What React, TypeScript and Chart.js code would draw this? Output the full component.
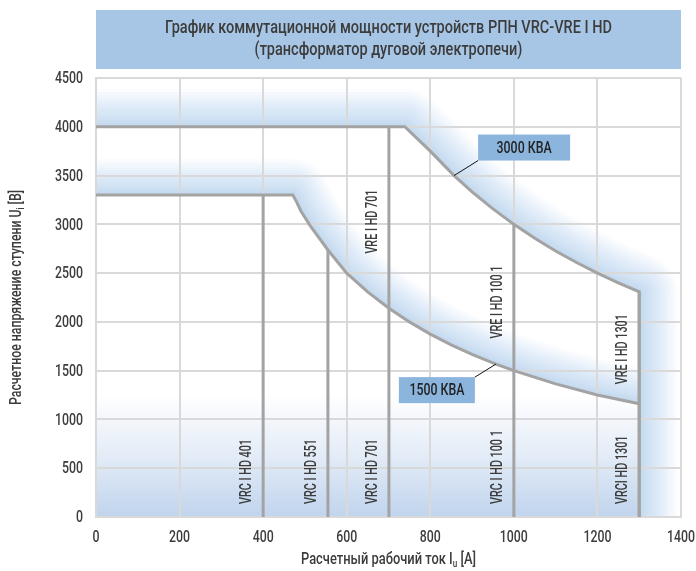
import { useEffect, useRef } from 'react';
import { Chart, registerables } from 'chart.js';

Chart.register(...registerables);

const FONT = "Roboto, 'Noto Sans', sans-serif";

// ---- data ----
const titleLines = [
  'График коммутационной мощности устройств РПН VRC-VRE I HD',
  '(трансформатор дуговой электропечи)',
];
const xTickValues = [0, 200, 400, 600, 800, 1000, 1200, 1400];
const yTickValues = [0, 500, 1000, 1500, 2000, 2500, 3000, 3500, 4000, 4500];

// 3000 kVA envelope (current A, voltage V)
const outerCurrent = [0, 739, 800, 857, 900, 950, 1000, 1050, 1100, 1150, 1200, 1250, 1300, 1300];
const outerVoltage = [4000, 4000, 3750, 3500, 3333, 3158, 3000, 2857, 2727, 2609, 2500, 2400, 2308, 0];

// 1500 kVA envelope
const innerCurrent = [0, 471, 480, 490, 512, 555, 600, 650, 701, 750, 800, 850, 900, 957, 1000, 1100, 1200, 1300];
const innerVoltage = [3300, 3300, 3230, 3140, 2990, 2737, 2500, 2308, 2140, 2000, 1875, 1765, 1667, 1567, 1500, 1364, 1250, 1160];

// tap-changer model limits
const modelCurrent = [400, 555, 701, 1000, 1300];
const modelTop = [3300, 2737, 4000, 3000, 2308];
const vrcLabels = ['VRC I HD 401', 'VRC I HD 551', 'VRC I HD 701', 'VRC I HD 100 1', 'VRCI HD 1301'];
const vreLabels = ['', '', 'VRE I HD 701', 'VRE I HD 100 1', 'VRE I HD 1301'];

// power curve call-outs
const powerLabels = ['3000 КВА', '1500 КВА'];
const powerAnchorCurrent = [857, 957];
const powerAnchorVoltage = [3500, 1567];

const xTitle = ['Расчетный рабочий ток I', 'u', ' [A]'];
const yTitle = ['Расчетное напряжение ступени U', 'i', ' [В]'];

// ---- styles ----
const LINE = '#a3a3a3';
const GRID = '#d9d9d9';
const TEXT = '#3c3c3c';
const TITLE_BG = '#a7c6e6';
const BOX_BG = '#8cb5de';
const GLOW = [165, 196, 234];
const W = 500;

const vreLabelBottomV = [0, 0, 2700, 1830, 1360];
const calloutGeom = [
  { dx: 24, dy: -15, w: 92, h: 26, side: 'right' },
  { dx: -21, dy: 13, w: 76, h: 26, side: 'left' },
];

function pts(cs: number[], vs: number[]) {
  return cs.map((c, i) => ({ x: c, y: vs[i] }));
}

// draw text horizontally condensed so that a reference string gets the wanted width
function condenseFactor(ctx: CanvasRenderingContext2D, font: string, ref: string, width: number) {
  ctx.save();
  ctx.font = font;
  const w = ctx.measureText(ref).width;
  ctx.restore();
  return width / w;
}
function fillNarrow(ctx: CanvasRenderingContext2D, txt: string, x: number, y: number, sx: number) {
  ctx.save();
  ctx.translate(x, y);
  ctx.scale(sx, 1);
  ctx.fillText(txt, 0, 0);
  ctx.restore();
}

function glowStroke(ctx: CanvasRenderingContext2D, path: [number, number][], maxD: number) {
  const N = 18;
  ctx.lineJoin = 'round';
  ctx.lineCap = 'butt';
  for (let k = N; k >= 1; k--) {
    ctx.beginPath();
    path.forEach(([px, py], i) => (i ? ctx.lineTo(px, py) : ctx.moveTo(px, py)));
    ctx.lineWidth = 2 * maxD * Math.pow(k / N, 1.5);
    ctx.strokeStyle = `rgba(${GLOW[0]},${GLOW[1]},${GLOW[2]},0.06)`;
    ctx.stroke();
  }
}

const backgroundPlugin = {
  id: 'backgroundPlugin',
  beforeDraw(chart: any) {
    const { ctx, chartArea: ca, scales } = chart;
    const X = (v: number) => scales.x.getPixelForValue(v);
    const Y = (v: number) => scales.y.getPixelForValue(v);
    ctx.save();
    ctx.fillStyle = '#ffffff';
    ctx.fillRect(0, 0, chart.width, chart.height);

    // title box
    ctx.fillStyle = TITLE_BG;
    ctx.fillRect(ca.left, 10, ca.right - ca.left, 59);
    ctx.fillStyle = TEXT;
    const tf = `${W} 19px ${FONT}`;
    const sx = condenseFactor(ctx, tf, titleLines[0], 447);
    ctx.font = tf;
    ctx.textAlign = 'center';
    ctx.textBaseline = 'middle';
    const cx = (ca.left + ca.right) / 2;
    fillNarrow(ctx, titleLines[0], cx, 28, sx);
    fillNarrow(ctx, titleLines[1], cx, 50, sx);

    // plot area
    ctx.beginPath();
    ctx.rect(ca.left, ca.top, ca.right - ca.left, ca.bottom - ca.top);
    ctx.clip();

    // bottom gradient
    const gTop = Y(1250);
    const g = ctx.createLinearGradient(0, ca.bottom, 0, gTop);
    g.addColorStop(0, 'rgba(192,212,237,1)');
    g.addColorStop(0.5, 'rgba(192,212,237,0.45)');
    g.addColorStop(1, 'rgba(192,212,237,0)');
    ctx.fillStyle = g;
    ctx.fillRect(ca.left, gTop, X(1300) - ca.left, ca.bottom - gTop);

    // outer glow
    const outerPath: [number, number][] = outerCurrent.map((c, i) => [X(c), Y(outerVoltage[i])]);
    outerPath[0][0] = ca.left - 40;
    outerPath[outerPath.length - 1][1] = ca.bottom + 40;
    ctx.save();
    ctx.beginPath();
    outerPath.forEach(([px, py], i) => (i ? ctx.lineTo(px, py) : ctx.moveTo(px, py)));
    ctx.lineTo(ca.right + 50, ca.bottom + 50);
    ctx.lineTo(ca.right + 50, ca.top - 50);
    ctx.lineTo(ca.left - 50, ca.top - 50);
    ctx.closePath();
    ctx.clip();
    glowStroke(ctx, outerPath, 38);
    ctx.restore();

    // inner glow
    const innerPath: [number, number][] = innerCurrent.map((c, i) => [X(c), Y(innerVoltage[i])]);
    innerPath[0][0] = ca.left - 40;
    const last = innerPath[innerPath.length - 1];
    ctx.save();
    ctx.beginPath();
    innerPath.forEach(([px, py], i) => (i ? ctx.lineTo(px, py) : ctx.moveTo(px, py)));
    ctx.lineTo(last[0], ca.top - 50);
    ctx.lineTo(ca.left - 50, ca.top - 50);
    ctx.closePath();
    ctx.clip();
    glowStroke(ctx, innerPath, 36);
    ctx.restore();

    ctx.restore();
  },
  afterDatasetsDraw(chart: any) {
    const { ctx, chartArea: ca, scales } = chart;
    const X = (v: number) => scales.x.getPixelForValue(v);
    const Y = (v: number) => scales.y.getPixelForValue(v);
    ctx.save();

    // tick labels from the library's scales
    const tickFont = `${W} 17px ${FONT}`;
    const tsx = condenseFactor(ctx, tickFont, '4500', 28);
    ctx.font = tickFont;
    ctx.fillStyle = TEXT;
    ctx.textBaseline = 'middle';
    ctx.textAlign = 'right';
    scales.y.ticks.forEach((t: any) => fillNarrow(ctx, String(t.value), ca.left - 13, Y(t.value) + 1, tsx));
    ctx.textAlign = 'center';
    scales.x.ticks.forEach((t: any) => fillNarrow(ctx, String(t.value), X(t.value), ca.bottom + 21, tsx));

    // model labels
    const labFont = `${W} 16px ${FONT}`;
    const lsx = condenseFactor(ctx, labFont, vrcLabels[0], 65);
    ctx.font = labFont;
    ctx.fillStyle = TEXT;
    ctx.textAlign = 'left';
    ctx.textBaseline = 'middle';
    modelCurrent.forEach((c, i) => {
      const lx = X(c) - 16;
      const draw = (txt: string, by: number) => {
        if (!txt) return;
        ctx.save();
        ctx.translate(lx, by);
        ctx.rotate(-Math.PI / 2);
        ctx.scale(lsx, 1);
        ctx.fillText(txt, 0, 0);
        ctx.restore();
      };
      draw(vrcLabels[i], ca.bottom - 13);
      draw(vreLabels[i], Y(vreLabelBottomV[i]));
    });

    // call-outs
    const boxFont = `${W} 17px ${FONT}`;
    const bsx = condenseFactor(ctx, boxFont, powerLabels[0], 55);
    powerLabels.forEach((lab, i) => {
      const ax = X(powerAnchorCurrent[i]);
      const ay = Y(powerAnchorVoltage[i]);
      const gm = calloutGeom[i];
      const cx = ax + gm.dx;
      const cy = ay + gm.dy;
      const bx = gm.side === 'right' ? cx : cx - gm.w;
      const by = gm.side === 'right' ? cy - gm.h : cy;
      ctx.fillStyle = BOX_BG;
      ctx.fillRect(bx, by, gm.w, gm.h);
      ctx.strokeStyle = '#111';
      ctx.lineWidth = 1;
      ctx.beginPath();
      ctx.moveTo(ax, ay);
      ctx.lineTo(cx, cy);
      ctx.stroke();
      ctx.fillStyle = '#222';
      ctx.font = boxFont;
      ctx.textAlign = 'center';
      ctx.textBaseline = 'middle';
      fillNarrow(ctx, lab, bx + gm.w / 2, by + gm.h / 2 + 1, bsx);
    });

    // axis titles with subscripts
    const drawSub = (parts: string[], x: number, y: number, rot: boolean, width: number) => {
      ctx.save();
      ctx.translate(x, y);
      if (rot) ctx.rotate(-Math.PI / 2);
      ctx.fillStyle = TEXT;
      ctx.textAlign = 'left';
      ctx.textBaseline = 'middle';
      const big = `${W} 16px ${FONT}`;
      const small = `${W} 10px ${FONT}`;
      ctx.font = big;
      const w1 = ctx.measureText(parts[0]).width;
      const w3 = ctx.measureText(parts[2]).width;
      ctx.font = small;
      const w2 = ctx.measureText(parts[1]).width;
      const total = w1 + w2 + w3;
      ctx.scale(width / total, 1);
      let sx = -total / 2;
      ctx.font = big;
      ctx.fillText(parts[0], sx, 0);
      sx += w1;
      ctx.font = small;
      ctx.fillText(parts[1], sx, 4);
      sx += w2;
      ctx.font = big;
      ctx.fillText(parts[2], sx, 0);
      ctx.restore();
    };
    drawSub(xTitle, (ca.left + ca.right) / 2, 560, false, 175);
    drawSub(yTitle, 17, (ca.top + ca.bottom) / 2, true, 215);
    ctx.restore();
  },
};

export default function App() {
  const ref = useRef<HTMLCanvasElement>(null);
  useEffect(() => {
    const lineStyle = { showLine: true, pointRadius: 0, borderColor: LINE, borderWidth: 3, fill: false };
    const datasets: any[] = [
      { ...lineStyle, data: pts(outerCurrent, outerVoltage) },
      { ...lineStyle, data: pts(innerCurrent, innerVoltage) },
      ...modelCurrent.map((c, i) => ({ ...lineStyle, data: [{ x: c, y: 0 }, { x: c, y: modelTop[i] }] })),
    ];
    const chart = new Chart(ref.current!, {
      type: 'scatter',
      data: { datasets },
      plugins: [backgroundPlugin],
      options: {
        responsive: false,
        animation: false,
        layout: { padding: { top: 78, right: 15, left: 0, bottom: 0 } },
        plugins: { legend: { display: false }, tooltip: { enabled: false } },
        scales: {
          x: {
            type: 'linear',
            min: 0,
            max: 1400,
            afterBuildTicks: (s: any) => { s.ticks = xTickValues.map((v) => ({ value: v })); },
            afterFit: (s: any) => { s.height = 54; },
            grid: { color: GRID, lineWidth: 2, drawTicks: false },
            border: { color: GRID, width: 2 },
            ticks: { display: false },
          },
          y: {
            type: 'linear',
            min: 0,
            max: 4500,
            afterBuildTicks: (s: any) => { s.ticks = yTickValues.map((v) => ({ value: v })); },
            afterFit: (s: any) => { s.width = 96; },
            grid: { color: GRID, lineWidth: 2, drawTicks: false },
            border: { color: GRID, width: 2 },
            ticks: { display: false },
          },
        },
      },
    });
    return () => chart.destroy();
  }, []);
  return (
    <div style={{ position: 'fixed', left: 0, top: 0, width: 696, height: 571 }}>
      <canvas ref={ref} width={696} height={571} style={{ display: 'block' }} />
    </div>
  );
}
